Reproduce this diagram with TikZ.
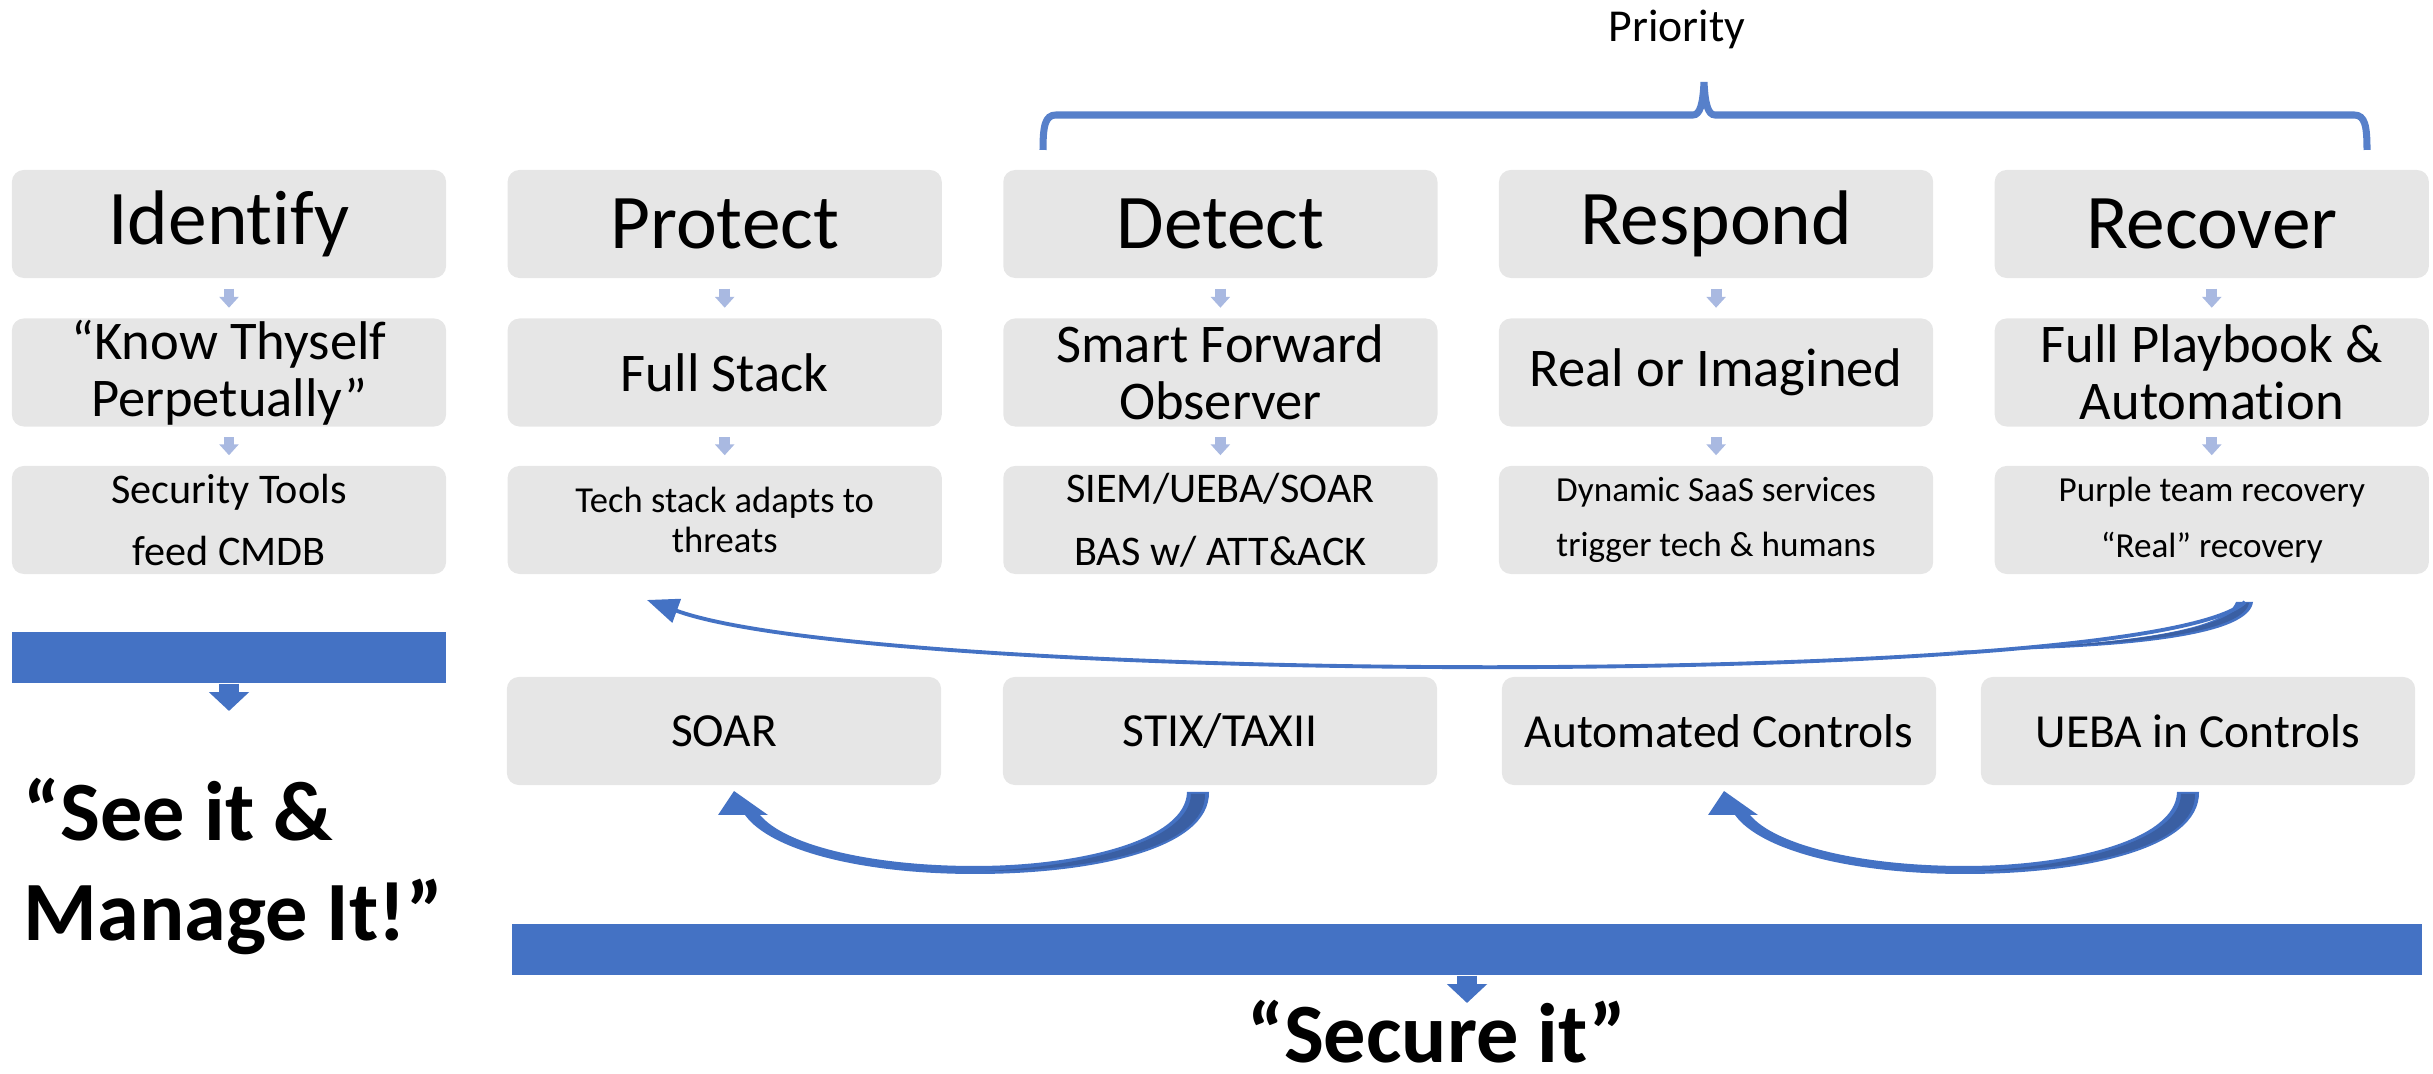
\documentclass[tikz,border=0pt]{standalone}
\usepackage{fontspec}
\setmainfont{Carlito}[Ligatures={TeX,NoCommon}]
\usepackage{tikz}
\usetikzlibrary{positioning,arrows.meta}

\definecolor{boxgray}{HTML}{E6E6E6}
\definecolor{officeblue}{HTML}{4472C4}
\definecolor{shadeblue}{HTML}{3A5FA3}
\definecolor{stepblue}{HTML}{A9B9E1}

\begin{document}
\begin{tikzpicture}[
  x=0.01cm, y=-0.01cm,
  phase/.style={rectangle, rounded corners=3.4pt, fill=boxgray, minimum width=4.34cm, minimum height=1.08cm, inner sep=0pt, align=center, font=\fontsize{22}{26}\selectfont},
  goal/.style={phase, font=\fontsize{15.5}{16.2}\selectfont},
  detail/.style={phase, font=\fontsize{12}{17.8}\selectfont},
  tool/.style={phase, font=\fontsize{13.5}{16}\selectfont},
  stepflow/.style={-{Triangle[length=3.1pt,width=5.4pt]}, line width=3.1pt, draw=stepblue, shorten <=0.1cm, shorten >=0.1cm},
  outbar/.style={rectangle, fill=officeblue, inner sep=0pt, minimum height=0.51cm},
  outflow/.style={-{Triangle[length=5.4pt,width=11.2pt]}, line width=5.7pt, draw=officeblue},
  cycleline/.style={-{Triangle[length=9pt,width=7pt]}, line width=1.1pt, draw=officeblue},
  prio/.style={line width=2pt, draw=officeblue!90!white},
  slogan/.style={font=\fontsize{24}{28.7}\selectfont\bfseries, inner sep=0pt}
]
\useasboundingbox (0,0) rectangle (2433,1074);

% priority brace
\node[anchor=base, font=\fontsize{13}{15}\selectfont] (prlabel) at (1677,42) {Priority};
\draw[prio] (1043,150) .. controls (1043,126) and (1045,115) .. (1056,115) -- (1693,115)
  .. controls (1700,115) and (1703,104) .. (1704,82) .. controls (1705,104) and (1708,115) .. (1715,115)
  -- (2354,115) .. controls (2365,115) and (2367,126) .. (2367,150);

% functions
\node[phase] (id) at (229,224) {Identify};
\node[phase, right=0.6cm of id] (pr) {Protect};
\node[phase, right=0.6cm of pr] (de) {Detect};
\node[phase, right=0.6cm of de] (rs) {Respond};
\node[phase, right=0.6cm of rs] (rc) {Recover};

\node[goal, below=0.39cm of id] (id2) {“Know Thyself\\Perpetually”};
\node[goal, below=0.39cm of pr] (pr2) {Full Stack};
\node[goal, below=0.39cm of de] (de2) {Smart Forward\\Observer};
\node[goal, below=0.39cm of rs] (rs2) {Real or Imagined};
\node[goal, below=0.39cm of rc] (rc2) {Full Playbook \&\\Automation};

\node[detail, below=0.38cm of id2] (id3) {Security Tools\\feed CMDB};
\node[detail, below=0.38cm of pr2, font=\fontsize{10.4}{11.4}\selectfont] (pr3) {Tech stack adapts to\\threats};
\node[detail, below=0.38cm of de2] (de3) {SIEM/UEBA/SOAR\\BAS w/ ATT\&ACK};
\node[detail, below=0.38cm of rs2, font=\fontsize{10}{15.8}\selectfont] (rs3) {Dynamic SaaS services\\trigger tech \& humans};
\node[detail, below=0.38cm of rc2, font=\fontsize{10}{15.8}\selectfont] (rc3) {Purple team recovery\\“Real” recovery};

\foreach \c in {id,pr,de,rs,rc}{
  \draw[stepflow] (\c.south) -- (\c2.north);
  \draw[stepflow] (\c2.south) -- (\c3.north);
}

% feedback loop
\coordinate (loopR) at (2245,602);
\coordinate (loopL) at (647,600);
\fill[officeblue] (2236,602) .. controls (2226,630) and (2130,645) .. (1950,651)
  .. controls (2150,649) and (2249,633) .. (2253,602) -- cycle;
\fill[shadeblue] (2240,603) .. controls (2230,628) and (2140,643) .. (2000,649)
  .. controls (2150,645) and (2244,630) .. (2249,603) -- cycle;
\draw[cycleline] (loopR) .. controls (2150,690) and (880,685) .. (loopL);

% tools
\node[tool] (soar) at (724,731) {SOAR};
\node[tool] (stix) at (1220,731) {STIX/TAXII};
\node[tool] (auto) at (1719,731) {Automated Controls};
\node[tool] (ueba) at (2198,731) {UEBA in Controls};

% curved arrows stix -> soar, ueba -> auto
\fill[officeblue] (1209,792) .. controls (1210,850) and (1090,874) .. (975,874)
  .. controls (860,874) and (770,850) .. (745,815) -- (718,815) -- (734,791) -- (768,815) -- (760,815)
  .. controls (785,845) and (870,866) .. (975,866) .. controls (1080,866) and (1186,840) .. (1187,792) -- cycle;
\fill[shadeblue] (1205,794) .. controls (1206,848) and (1090,871) .. (985,871)
  .. controls (1080,867) and (1190,842) .. (1191,794) -- cycle;
\begin{scope}[shift={(990,0)}]
\fill[officeblue] (1209,792) .. controls (1210,850) and (1090,874) .. (975,874)
  .. controls (860,874) and (770,850) .. (745,815) -- (718,815) -- (734,791) -- (768,815) -- (760,815)
  .. controls (785,845) and (870,866) .. (975,866) .. controls (1080,866) and (1186,840) .. (1187,792) -- cycle;
\fill[shadeblue] (1205,794) .. controls (1206,848) and (1090,871) .. (985,871)
  .. controls (1080,867) and (1190,842) .. (1191,794) -- cycle;
\end{scope}

% outcomes
\node[outbar, minimum width=4.34cm] (idbar) at (229,657.5) {};
\coordinate (idtip) at (229,711);
\draw[outflow] (idbar.south) -- (idtip);
\node[slogan, anchor=north west, align=left] (idsay) at (23,777) {“See it \&\\Manage It!”};

\node[outbar, minimum width=19.08cm] (secbar) at (1467,949.5) {};
\coordinate (sectip) at (1467,1003);
\draw[outflow] (secbar.south) -- (sectip);
\node[slogan, anchor=base] (secsay) at (1437,1063) {“Secure it”};

\end{tikzpicture}
\end{document}
